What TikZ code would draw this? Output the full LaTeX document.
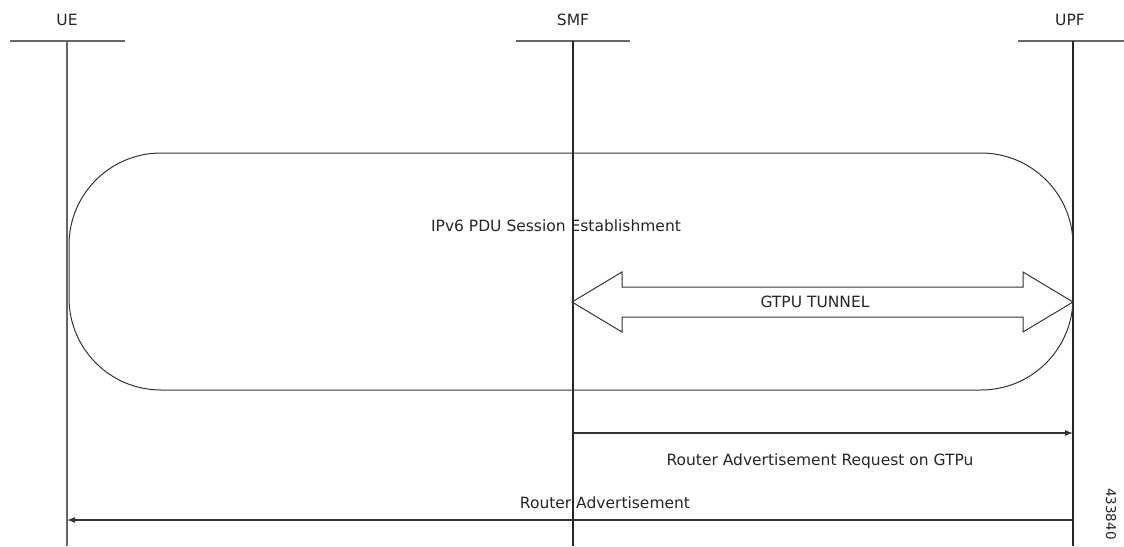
\documentclass[tikz,border=0pt]{standalone}
\usepackage{fontspec}
\setmainfont{DejaVu Sans}
\usetikzlibrary{arrows.meta}
\begin{document}
\begin{tikzpicture}[x=1pt,y=-1pt,
  lbl/.style={font=\fontsize{15.5}{17}\selectfont, text=black!85, inner sep=0pt},
  life/.style={draw=black!60, line width=1.2pt},
  bar/.style={draw=black!60, line width=1.2pt},
  msg/.style={draw=black!80, line width=1.1pt, -{Latex[length=8pt,width=6pt]}},
  frame/.style={draw=black!80, line width=1pt}]
\useasboundingbox (0,0) rectangle (1124,546);
% headers
\node[lbl] (ue)  at (67,20) {UE};
\node[lbl] (smf) at (573,20) {SMF};
\node[lbl] (upf) at (1070,20) {UPF};
\coordinate (ueL) at (10,41);  \coordinate (ueR) at (125,41);
\coordinate (smfL) at (516,41); \coordinate (smfR) at (630,41);
\coordinate (upfL) at (1018,41); \coordinate (upfR) at (1124,41);
\coordinate (ueT) at (67,41);  \coordinate (ueB) at (67,546);
\coordinate (smfT) at (573,41); \coordinate (smfB) at (573,546);
\coordinate (upfT) at (1073,41); \coordinate (upfB) at (1073,546);
\draw[bar] (ueL) -- (ueR);
\draw[bar] (smfL) -- (smfR);
\draw[bar] (upfL) -- (upfR);
\draw[life] (ueT) -- (ueB);
\draw[life, draw=black!85] (smfT) -- (smfB);
\draw[life, draw=black!85] (upfT) -- (upfB);
% rounded frame
\draw[frame, rounded corners=92pt] (69,153) rectangle (1073,390);
\node[lbl] (ipv6) at (556,226) {IPv6 PDU Session Establishment};
% GTPU double arrow
\draw[frame, line join=miter] (572,302) -- (622,272) -- (622,287) -- (1023,287) -- (1023,272)
  -- (1073,302) -- (1023,332) -- (1023,317) -- (622,317) -- (622,332) -- cycle;
\node[lbl] (gtpu) at (815,302) {GTPU TUNNEL};
% messages
\coordinate (m1s) at (573,433); \coordinate (m1e) at (1073,433);
\draw[msg] (m1s) -- (m1e);
\node[lbl] (m1l) at (820,461) {Router Advertisement Request on GTPu};
\coordinate (m2s) at (1073,520); \coordinate (m2e) at (67,520);
\draw[msg] (m2s) -- (m2e);
\node[lbl] (m2l) at (605,503) {Router Advertisement};
\node[lbl, rotate=-90, font=\fontsize{13.5}{15}\selectfont] (fig) at (1111,514) {433840};
\end{tikzpicture}
\end{document}
